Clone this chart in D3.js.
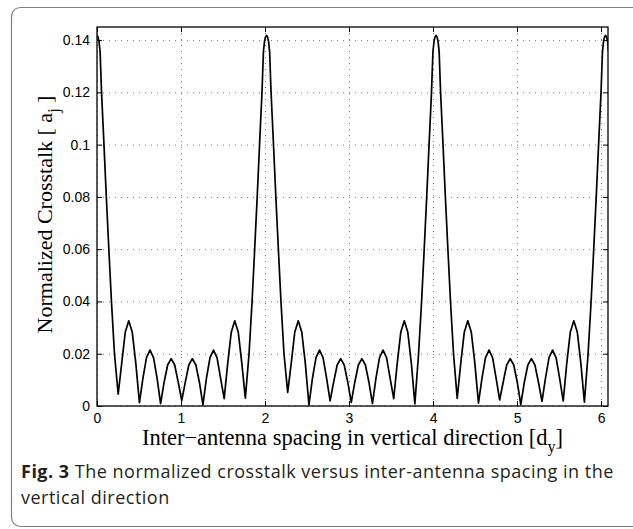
<!DOCTYPE html>
<html>
<head>
<meta charset="utf-8">
<script src="https://cdn.jsdelivr.net/npm/d3@7"></script>
<style>
  body { margin: 0; background: #fff; }
  .tick text { font-family: "Liberation Sans", Arial, sans-serif; font-size: 14px; fill: #000; }
  .tick line { stroke: #000; }
  .grid line { stroke: #777; stroke-dasharray: 1,5; }
</style>
</head>
<body>
<div id="chart-area"></div>
<script>
// curve: peaks, nulls and arch points of each lobe
let spacing = [
    0, 0.012, 0.024, 0.037, 0.054, 0.083, 0.111, 0.141, 0.172, 0.208, 0.252,
    0.294, 0.336, 0.378, 0.420, 0.462, 0.505,
    0.547, 0.589, 0.631, 0.673, 0.715, 0.757,
    0.799, 0.841, 0.883, 0.925, 0.967, 1.009,
    1.051, 1.093, 1.135, 1.177, 1.219, 1.261,
    1.303, 1.345, 1.387, 1.429, 1.471, 1.514,
    1.556, 1.598, 1.640, 1.682, 1.724, 1.766,
    1.810, 1.846, 1.877, 1.907, 1.935, 1.964, 1.981, 1.994, 2.006, 2.018, 2.030, 2.042, 2.055, 2.072, 2.101, 2.129, 2.159, 2.190, 2.226, 2.270,
    2.312, 2.354, 2.396, 2.438, 2.480, 2.523,
    2.565, 2.607, 2.649, 2.691, 2.733, 2.775,
    2.817, 2.859, 2.901, 2.943, 2.985, 3.027,
    3.069, 3.111, 3.153, 3.195, 3.237, 3.279,
    3.321, 3.363, 3.405, 3.447, 3.489, 3.532,
    3.574, 3.616, 3.658, 3.700, 3.742, 3.784,
    3.828, 3.864, 3.895, 3.925, 3.953, 3.982, 3.999, 4.012, 4.024, 4.036, 4.048, 4.060, 4.073, 4.090, 4.119, 4.147, 4.177, 4.208, 4.244, 4.288,
    4.330, 4.372, 4.414, 4.456, 4.498, 4.541,
    4.583, 4.625, 4.667, 4.709, 4.751, 4.793,
    4.835, 4.877, 4.919, 4.961, 5.003, 5.045,
    5.087, 5.129, 5.171, 5.213, 5.255, 5.297,
    5.339, 5.381, 5.423, 5.465, 5.507, 5.550,
    5.592, 5.634, 5.676, 5.718, 5.760, 5.802,
    5.846, 5.882, 5.913, 5.943, 5.971, 6.000, 6.017, 6.030, 6.042, 6.054, 6.066, 6.078, 6.091
];

let crosstalk = [
    0.1418, 0.1412, 0.1395, 0.1355, 0.12, 0.10, 0.08, 0.06, 0.04, 0.02, 0.0045,
    0.0163, 0.0282, 0.0326, 0.0282, 0.0163, 0.0013,
    0.0107, 0.0185, 0.0214, 0.0185, 0.0107, 0.0009,
    0.0091, 0.0157, 0.0181, 0.0157, 0.0091, 0.0021,
    0.0091, 0.0157, 0.0181, 0.0157, 0.0091, 0.0004,
    0.0107, 0.0185, 0.0214, 0.0185, 0.0107, 0.0028,
    0.0163, 0.0282, 0.0326, 0.0282, 0.0163, 0.0030,
    0.02, 0.04, 0.06, 0.08, 0.10, 0.12, 0.1355, 0.1395, 0.1412, 0.1418, 0.1412, 0.1395, 0.1355, 0.12, 0.10, 0.08, 0.06, 0.04, 0.02, 0.0052,
    0.0163, 0.0282, 0.0326, 0.0282, 0.0163, 0.0004,
    0.0107, 0.0185, 0.0214, 0.0185, 0.0107, 0.0020,
    0.0091, 0.0157, 0.0181, 0.0157, 0.0091, 0.0014,
    0.0091, 0.0157, 0.0181, 0.0157, 0.0091, 0.0009,
    0.0107, 0.0185, 0.0214, 0.0185, 0.0107, 0.0028,
    0.0163, 0.0282, 0.0326, 0.0282, 0.0163, 0.0008,
    0.02, 0.04, 0.06, 0.08, 0.10, 0.12, 0.1355, 0.1395, 0.1412, 0.1418, 0.1412, 0.1395, 0.1355, 0.12, 0.10, 0.08, 0.06, 0.04, 0.02, 0.0029,
    0.0163, 0.0282, 0.0326, 0.0282, 0.0163, 0.0011,
    0.0107, 0.0185, 0.0214, 0.0185, 0.0107, 0.0023,
    0.0091, 0.0157, 0.0181, 0.0157, 0.0091, 0.0005,
    0.0091, 0.0157, 0.0181, 0.0157, 0.0091, 0.0018,
    0.0107, 0.0185, 0.0214, 0.0185, 0.0107, 0.0019,
    0.0163, 0.0282, 0.0326, 0.0282, 0.0163, 0.0015,
    0.02, 0.04, 0.06, 0.08, 0.10, 0.12, 0.1355, 0.1395, 0.1412, 0.1418, 0.1412, 0.1395, 0.1355
];

let xTicks = [0, 1, 2, 3, 4, 5, 6];
let yTicks = [0, 0.02, 0.04, 0.06, 0.08, 0.1, 0.12, 0.14];

let margin = {left: 97, right: 25, top: 27, bottom: 123};
let width = 633 - margin.left - margin.right,
    height = 529 - margin.top - margin.bottom;

let root = d3.select("#chart-area")
    .append("svg")
    .attr("width", 633)
    .attr("height", 529);

// rounded frame around figure + caption
root.append("rect")
    .attr("x", 11.5).attr("y", 7.5)
    .attr("width", 640).attr("height", 519)
    .attr("rx", 9)
    .attr("fill", "none")
    .attr("stroke", "#808080")
    .attr("stroke-width", 1.2);

let svg = root.append("g")
    .attr("transform", `translate(${margin.left},${margin.top})`);

let x = d3.scaleLinear().domain([0, 6.083]).range([0, width]);
let y = d3.scaleLinear().domain([0, 0.145]).range([height, 0]);

// dotted grid
svg.append("g")
    .attr("class", "grid")
    .attr("transform", `translate(0,${height})`)
    .call(d3.axisBottom(x).tickValues(xTicks).tickSize(-height).tickFormat(""))
    .call(g => g.select(".domain").remove());

svg.append("g")
    .attr("class", "grid")
    .call(d3.axisLeft(y).tickValues(yTicks).tickSize(-width).tickFormat(""))
    .call(g => g.select(".domain").remove());

svg.append("clipPath").attr("id", "clip")
    .append("rect").attr("width", width).attr("height", height);

let line = d3.line()
    .x((d, i) => x(spacing[i]))
    .y(d => y(d));

svg.append("path")
    .datum(crosstalk)
    .attr("clip-path", "url(#clip)")
    .attr("d", line)
    .attr("fill", "none")
    .attr("stroke", "#000")
    .attr("stroke-width", 1.7)
    .attr("stroke-linejoin", "round");

// axes, matlab style ticks pointing inside
let fmt = d => String(+d.toFixed(2));

svg.append("g")
    .attr("transform", `translate(0,${height})`)
    .call(d3.axisBottom(x).tickValues(xTicks).tickSizeInner(-5).tickSizeOuter(0).tickPadding(7).tickFormat(fmt))
    .call(g => g.select(".domain").remove());

svg.append("g")
    .call(d3.axisTop(x).tickValues(xTicks).tickSizeInner(-5).tickSizeOuter(0).tickFormat(""))
    .call(g => g.select(".domain").remove());

svg.append("g")
    .call(d3.axisLeft(y).tickValues(yTicks).tickSizeInner(-5).tickSizeOuter(0).tickPadding(7).tickFormat(fmt))
    .call(g => g.select(".domain").remove());

svg.append("g")
    .attr("transform", `translate(${width},0)`)
    .call(d3.axisRight(y).tickValues(yTicks).tickSizeInner(-5).tickSizeOuter(0).tickFormat(""))
    .call(g => g.select(".domain").remove());

svg.append("rect")
    .attr("width", width).attr("height", height)
    .attr("fill", "none")
    .attr("stroke", "#000")
    .attr("stroke-width", 1.3);

// axis titles
let serif = "'Liberation Serif', 'Times New Roman', serif";

let yl = svg.append("text")
    .attr("transform", `translate(${52 - margin.left},${height / 2 - 2}) rotate(-90)`)
    .attr("text-anchor", "middle")
    .attr("font-family", serif)
    .attr("font-size", 22);
yl.append("tspan").text("Normalized Crosstalk [ a");
yl.append("tspan").attr("dy", 7).attr("font-size", 16).text("j");
yl.append("tspan").attr("dy", -7).text(" ]");

let xl = svg.append("text")
    .attr("x", width / 2)
    .attr("y", 445 - margin.top)
    .attr("text-anchor", "middle")
    .attr("font-family", serif)
    .attr("font-size", 22.5);
xl.append("tspan").text("Inter\u2212antenna spacing in vertical direction [d");
xl.append("tspan").attr("dy", 7).attr("font-size", 16).text("y");
xl.append("tspan").attr("dy", -7).text("]");

// caption
let cap = root.append("g")
    .attr("font-family", "'Open Sans', 'Noto Sans', sans-serif")
    .attr("font-size", 18)
    .attr("letter-spacing", 0.5)
    .attr("fill", "#231f20");
let c1 = cap.append("text").attr("x", 21).attr("y", 478);
c1.append("tspan").attr("font-weight", "bold").text("Fig. 3");
c1.append("tspan").text(" The normalized crosstalk versus inter-antenna spacing in the");
cap.append("text").attr("x", 21).attr("y", 504).text("vertical direction");
</script>
</body>
</html>
